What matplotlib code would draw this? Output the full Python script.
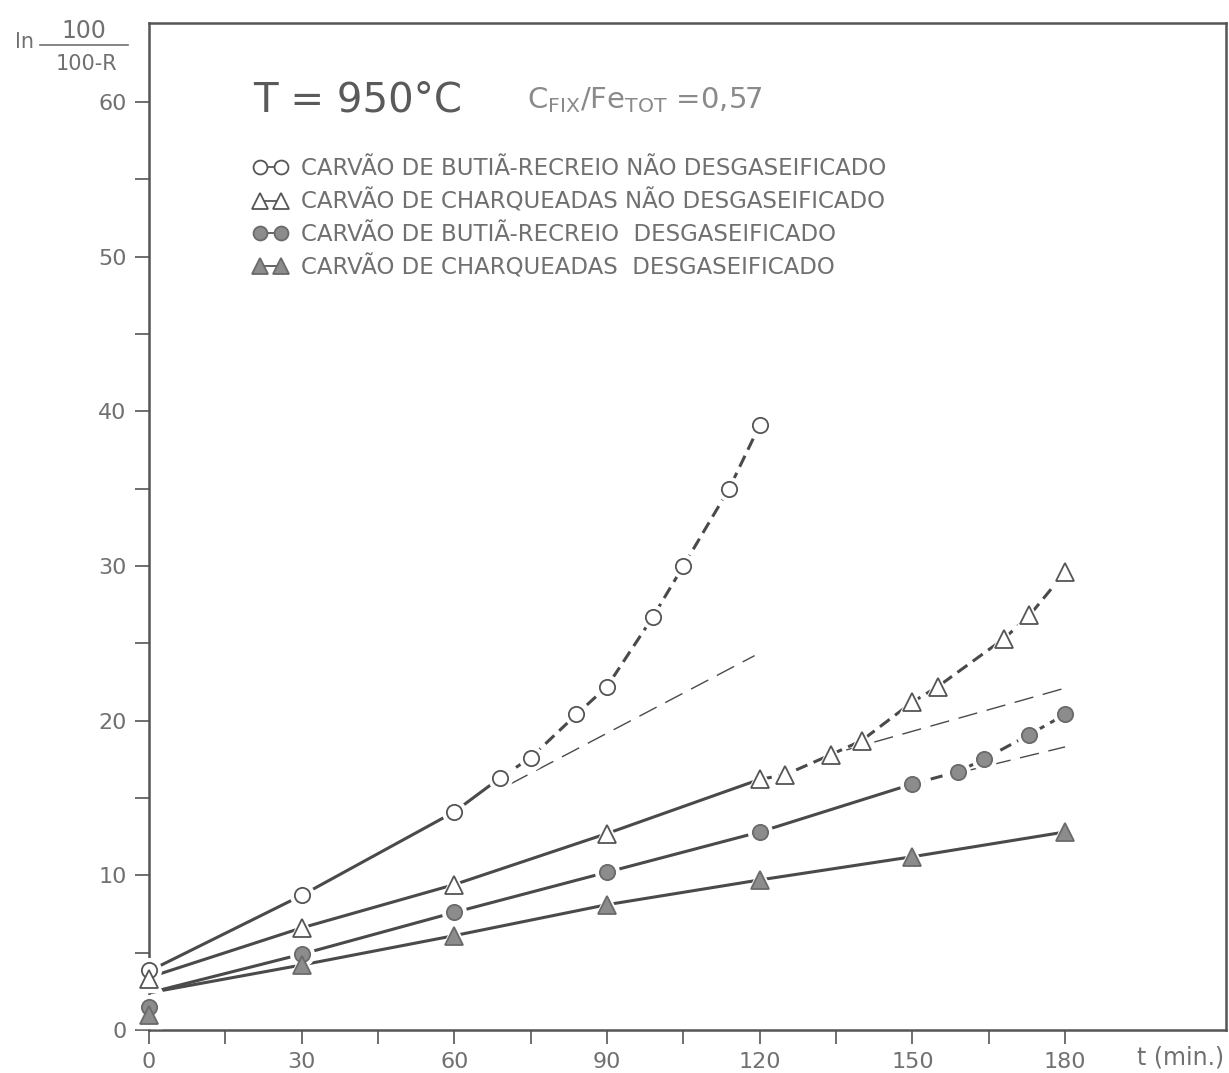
import matplotlib
matplotlib.use("Agg")
from matplotlib import pyplot as plt
from matplotlib.lines import Line2D
from matplotlib.ticker import FixedLocator

# data: t (min) and ln(100/(100-R))
t1 = [0, 30, 60, 69, 75, 84, 90, 99, 105, 114, 120]
y1 = [3.9, 8.7, 14.1, 16.3, 17.6, 20.4, 22.2, 26.7, 30.0, 35.0, 39.1]
t2 = [0, 30, 60, 90, 120, 125, 134, 140, 150, 155, 168, 173, 180]
y2 = [3.3, 6.6, 9.4, 12.7, 16.2, 16.5, 17.8, 18.7, 21.2, 22.2, 25.3, 26.8, 29.6]
t3 = [0, 30, 60, 90, 120, 150, 159, 164, 173, 180]
y3 = [1.5, 4.9, 7.6, 10.2, 12.8, 15.9, 16.7, 17.5, 19.1, 20.4]
t4 = [0, 30, 60, 90, 120, 150, 180]
y4 = [1.0, 4.2, 6.1, 8.1, 9.7, 11.2, 12.8]

# where each drawn line starts at t=0, and where the solid part ends
line_start = [3.8, 3.4, 2.4, 2.4]
solid_end = [69, 120, 150, 180]

# thin dashed extrapolations of the straight part
ext_t = [[71, 119], [137, 180], [160, 180]]
ext_y = [[15.9, 24.2], [18.1, 22.1], [16.7, 18.3]]

labels = ["CARVÃO DE BUTIÃ-RECREIO NÃO DESGASEIFICADO",
          "CARVÃO DE CHARQUEADAS NÃO DESGASEIFICADO",
          "CARVÃO DE BUTIÃ-RECREIO  DESGASEIFICADO",
          "CARVÃO DE CHARQUEADAS  DESGASEIFICADO"]

x_ticks = [0, 30, 60, 90, 120, 150, 180]
x_minor = [15, 45, 75, 105, 135, 165]
y_ticks = [0, 10, 20, 30, 40, 50, 60]
y_minor = [5, 15, 25, 35, 45, 55]

line_c = "#4a4a4a"
text_c = "#707070"
fill_c = "#8c8c8c"

styles = [dict(marker="o", ms=11, mfc="white", mec="#555555"),
          dict(marker="^", ms=13, mfc="white", mec="#555555"),
          dict(marker="o", ms=11, mfc=fill_c, mec="#6a6a6a"),
          dict(marker="^", ms=13, mfc=fill_c, mec="#6a6a6a")]

fig = plt.figure(figsize=(12.29, 10.73), dpi=100)
ax = fig.add_axes([0.1212, 0.0401, 0.8763, 0.9385])

series = [(t1, y1), (t2, y2), (t3, y3), (t4, y4)]
for i, (t, y) in enumerate(series):
    # fitted line: starts at line_start at t=0, then through the points
    lt = [0] + t[1:]
    ly = [line_start[i]] + y[1:]
    k = lt.index(solid_end[i])
    ax.plot(lt[:k + 1], ly[:k + 1], color=line_c, lw=2.2, solid_capstyle="butt", zorder=2)
    if k < len(lt) - 1:
        ax.plot(lt[k:], ly[k:], color=line_c, lw=2.2, ls=(0, (4, 2.2)), zorder=2)
    # white halo so lines stop short of the markers
    ax.plot(t, y, ls="none", marker=styles[i]["marker"], ms=styles[i]["ms"] + 6,
            mfc="white", mec="white", zorder=3, clip_on=False)
    ax.plot(t, y, ls="none", mew=1.3, zorder=4, clip_on=False, **styles[i])

for et, ey in zip(ext_t, ext_y):
    ax.plot(et, ey, color=line_c, lw=1.0, ls=(0, (14, 7)), zorder=2)

ax.set_xlim(0, 211.6)
ax.set_ylim(0, 65.1)

ax.xaxis.set_major_locator(FixedLocator(x_ticks))
ax.xaxis.set_minor_locator(FixedLocator(x_minor))
ax.yaxis.set_major_locator(FixedLocator(y_ticks))
ax.yaxis.set_minor_locator(FixedLocator(y_minor))
ax.tick_params(which="both", direction="out", length=10, width=1.2, color="#555555")
ax.tick_params(which="major", labelsize=16, labelcolor=text_c, pad=6)
ax.set_xticklabels([str(v) for v in x_ticks])
ax.set_yticklabels([str(v) for v in y_ticks])

for s in ax.spines.values():
    s.set_linewidth(1.8)
    s.set_color("#555555")

# axis labels
ax.text(1.0 - 0.002, -0.027, "t (min.)", transform=ax.transAxes, ha="right", va="center",
        fontsize=17, color=text_c)
fig.text(15 / 1229, 1 - 42 / 1073, "ln", fontsize=15, color=text_c, ha="left", va="center")
fig.text(84 / 1229, 1 - 31 / 1073, "100", fontsize=17, color=text_c, ha="center", va="center")
fig.text(86 / 1229, 1 - 64 / 1073, "100-R", fontsize=15, color=text_c, ha="center", va="center")
fig.add_artist(Line2D([40 / 1229, 128 / 1229], [1 - 45 / 1073, 1 - 45 / 1073],
                      color=text_c, lw=1.2))

# conditions
fig.text(253 / 1229, 1 - 100 / 1073, "T = 950°C", fontsize=29, color="#5a5a5a",
         ha="left", va="center")
fig.text(527 / 1229, 1 - 100 / 1073,
         r"C$_{\mathregular{FIX}}$/Fe$_{\mathregular{TOT}}$ =0,57",
         fontsize=21, color="#8a8a8a", ha="left", va="center")

handles = [Line2D([], [], color=line_c, lw=1.2, mew=1.3, **st) for st in styles]
for h, st in zip(handles, styles):
    h.set_markersize(st["ms"] - 1)
ax.legend(handles, labels, loc="upper left", bbox_to_anchor=(0.086, 0.878),
          frameon=False, numpoints=2, handlelength=1.5, handletextpad=0.6,
          labelspacing=0.4, borderpad=0, fontsize=16.5, labelcolor=text_c)

fig.savefig("out.png", dpi=100, facecolor="white")
